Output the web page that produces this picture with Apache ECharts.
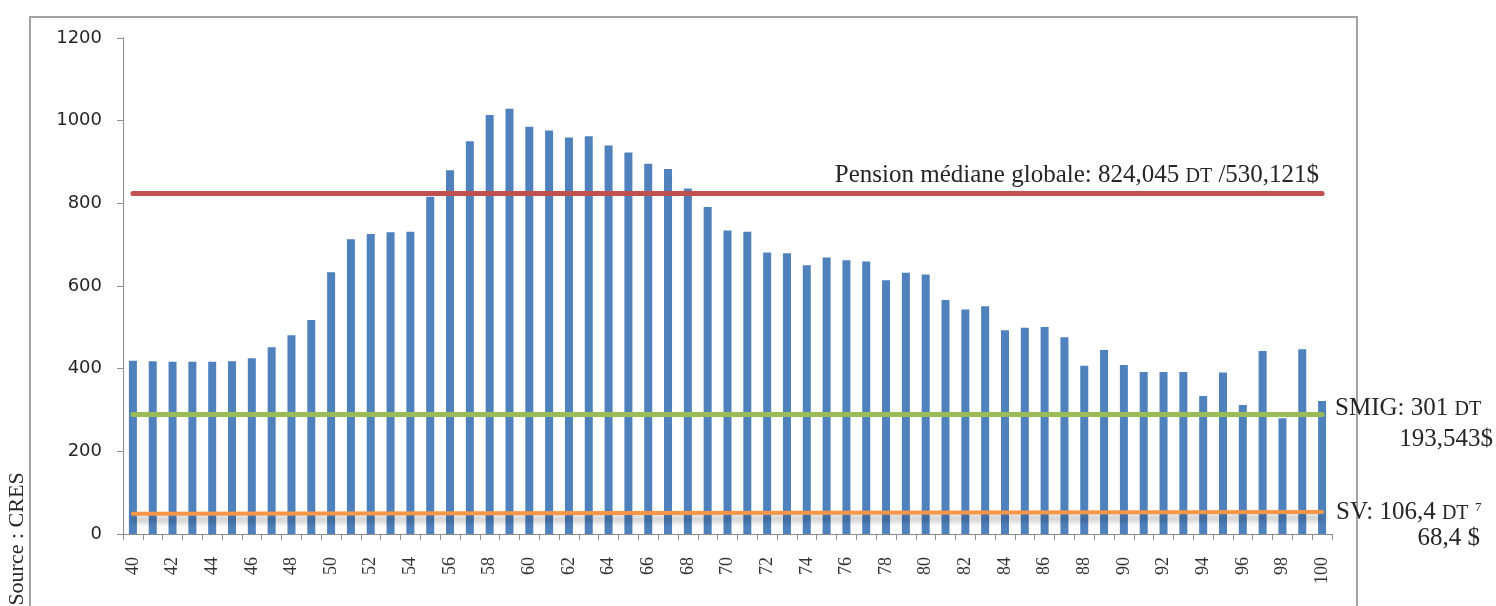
<!DOCTYPE html>
<html>
<head>
<meta charset="utf-8">
<script src="https://cdn.jsdelivr.net/npm/echarts@6/dist/echarts.min.js"></script>
<style>
html,body{margin:0;padding:0;background:#fff;}
#chart{width:1496px;height:606px;}
</style>
</head>
<body>
<div id="chart"></div>
<script>
const ages = ['40','41','42','43','44','45','46','47','48','49',
  '50','51','52','53','54','55','56','57','58','59',
  '60','61','62','63','64','65','66','67','68','69',
  '70','71','72','73','74','75','76','77','78','79',
  '80','81','82','83','84','85','86','87','88','89',
  '90','91','92','93','94','95','96','97','98','99','100'];
const pensions = [419,418,417,417,417,418,425,452,481,518,
  633,713,726,730,731,816,880,950,1014,1029,
  985,976,959,962,940,923,896,883,836,791,
  734,731,681,679,650,669,662,659,614,632,
  628,566,543,551,493,499,501,476,407,445,
  409,392,392,392,334,391,312,443,280,447,322];
const yTicks = {min: 0, max: 1200, interval: 200};
const medianLine = [824, 824];   // Pension médiane globale
const smigLine = [290, 290];     // SMIG
const svLine = [49, 53];         // SV

const serif = '"Liberation Serif", "DejaVu Serif", serif';
const chart = echarts.init(document.getElementById('chart'));

function seg(vals, color, width, shadow) {
  const ls = {color: color, width: width, type: 'solid', cap: 'round'};
  if (shadow) {
    ls.shadowColor = 'rgba(0,0,0,0.35)';
    ls.shadowBlur = 6;
    ls.shadowOffsetY = 6;
  }
  return [{coord: [ages[0], vals[0]], lineStyle: ls},
          {coord: [ages[ages.length - 1], vals[1]]}];
}

chart.setOption({
  animation: false,
  backgroundColor: '#ffffff',
  grid: {left: 123, right: 164, top: 38, bottom: 72, containLabel: false},
  xAxis: {
    type: 'category',
    data: ages,
    boundaryGap: true,
    axisLine: {lineStyle: {color: '#8c8c8c', width: 1}},
    axisTick: {show: true, interval: 0, length: 6, lineStyle: {color: '#8c8c8c'}},
    axisLabel: {interval: 1, rotate: 90, margin: 23, fontFamily: serif, fontSize: 18, color: '#333'},
    splitLine: {show: false}
  },
  yAxis: {
    type: 'value',
    min: yTicks.min, max: yTicks.max, interval: yTicks.interval,
    axisLine: {show: true, lineStyle: {color: '#8c8c8c', width: 1}},
    axisTick: {show: true, length: 6, lineStyle: {color: '#8c8c8c'}},
    axisLabel: {margin: 21, fontFamily: '"DejaVu Sans", sans-serif', fontSize: 18, color: '#262626',
                formatter: function (v) { return String(v); }},
    splitLine: {show: false}
  },
  series: [{
    type: 'bar',
    data: pensions,
    barWidth: 8,
    itemStyle: {color: '#4F81BD'},
    markLine: {
      silent: true,
      symbol: ['none', 'none'],
      label: {show: false},
      animation: false,
      data: [
        seg(svLine, '#F79646', 4, true),
        seg(smigLine, '#9BBB59', 5, false),
        seg(medianLine, '#C0504D', 5, false)
      ]
    }
  }]
});

function px(cat, val) {
  return chart.convertToPixel({xAxisIndex: 0, yAxisIndex: 0}, [cat, val]);
}
const last = ages[ages.length - 1];
const pMed = px(last, medianLine[1]);
const pSmig = px(last, smigLine[1]);
const pSv = px(last, svLine[1]);
const txtColor = '#262626';
const rich = {
  n: {fontFamily: serif, fontSize: 25, fill: txtColor, color: txtColor, verticalAlign: 'bottom'},
  s: {fontFamily: serif, fontSize: 20, fill: txtColor, color: txtColor, verticalAlign: 'bottom', padding: [0, 0, 1, 0]},
  sup: {fontFamily: serif, fontSize: 13, fill: txtColor, color: txtColor, verticalAlign: 'bottom', padding: [0, 0, 11, 0]}
};

chart.setOption({
  graphic: [
    {type: 'rect', silent: true, z: 0,
     shape: {x: 30, y: 17, width: 1327, height: 700},
     style: {fill: 'none', stroke: '#a3a3a3', lineWidth: 2}},
    {type: 'text', silent: true, z: 100,
     x: pMed[0] - 3, y: pMed[1] - 18,
     style: {text: '{n|Pension médiane globale: 824,045 }{s|DT}{n| /530,121$}', rich: rich,
             align: 'right', verticalAlign: 'middle'}},
    {type: 'text', silent: true, z: 100,
     x: pSmig[0] + 13, y: pSmig[1] - 6,
     style: {text: '{n|SMIG: 301 }{s|DT}', rich: rich, align: 'left', verticalAlign: 'middle'}},
    {type: 'text', silent: true, z: 100,
     x: pSmig[0] + 171, y: pSmig[1] + 25,
     style: {text: '193,543$', fontFamily: serif, fontSize: 25, fill: txtColor, align: 'right', verticalAlign: 'middle'}},
    {type: 'text', silent: true, z: 100,
     x: pSv[0] + 14, y: pSv[1],
     style: {text: '{n|SV: 106,4 }{s|DT}{sup|  7}', rich: rich, align: 'left', verticalAlign: 'middle'}},
    {type: 'text', silent: true, z: 100,
     x: pSv[0] + 158, y: pSv[1] + 26,
     style: {text: '68,4 $', fontFamily: serif, fontSize: 25, fill: txtColor, align: 'right', verticalAlign: 'middle'}},
    {type: 'text', silent: true, z: 100,
     x: 17, y: 539, rotation: Math.PI / 2,
     style: {text: 'Source : CRES', fontFamily: serif, fontSize: 22, fill: txtColor, align: 'center', verticalAlign: 'middle'}}
  ]
});
</script>
</body>
</html>
